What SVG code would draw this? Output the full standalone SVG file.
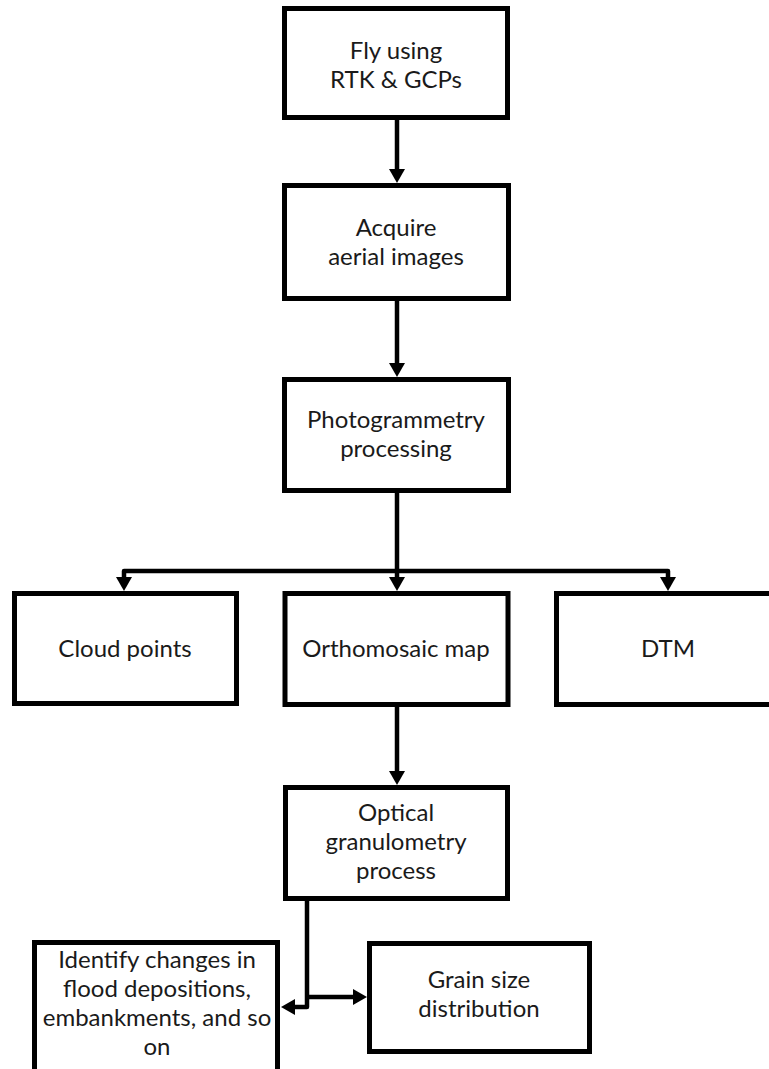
<svg xmlns="http://www.w3.org/2000/svg" width="769" height="1069" viewBox="0 0 769 1069">
  <style>
    .box { fill: #ffffff; stroke: #000000; stroke-width: 5; stroke-linejoin: miter; }
    .lbl { font-family: Lato, "Open Sans", "Liberation Sans", sans-serif; font-size: 24px; fill: #1a1a1a; text-anchor: middle; }
    .wire { fill: none; stroke: #000000; stroke-width: 4.5; stroke-linejoin: round; }
  </style>
  <defs>
    <marker id="arrow" viewBox="0 0 14 16" refX="6" refY="8" markerWidth="14" markerHeight="16" markerUnits="userSpaceOnUse" orient="auto">
      <path d="M0,0 L14,8 L0,16 z" fill="#000000"/>
    </marker>
  </defs>
  <rect width="769" height="1069" fill="#ffffff"/>

  <g id="connectors">
    <path class="wire" d="M397,120 V175" marker-end="url(#arrow)"/>
    <path class="wire" d="M397,301 V369" marker-end="url(#arrow)"/>
    <path class="wire" d="M397,493 V583" marker-end="url(#arrow)"/>
    <path class="wire" d="M397,571 H124 V583" marker-end="url(#arrow)"/>
    <path class="wire" d="M397,571 H668 V583" marker-end="url(#arrow)"/>
    <path class="wire" d="M397,707 V777" marker-end="url(#arrow)"/>
    <path class="wire" d="M307,901 V1007 H289" marker-end="url(#arrow)"/>
    <path class="wire" d="M307,997 H359" marker-end="url(#arrow)"/>
  </g>

  <g id="fly">
    <rect class="box" x="284.5" y="8.5" width="223" height="109"/>
    <text class="lbl" x="396" y="59">Fly using</text>
    <text class="lbl" x="396" y="88">RTK &amp; GCPs</text>
  </g>

  <g id="acquire">
    <rect class="box" x="284.5" y="185.5" width="224" height="113"/>
    <text class="lbl" x="396" y="235.5">Acquire</text>
    <text class="lbl" x="396" y="264.5">aerial images</text>
  </g>

  <g id="photogrammetry">
    <rect class="box" x="284.5" y="379.5" width="224" height="111"/>
    <text class="lbl" x="396" y="428">Photogrammetry</text>
    <text class="lbl" x="396" y="457">processing</text>
  </g>

  <g id="cloud-points">
    <rect class="box" x="14.5" y="593.5" width="222" height="110"/>
    <text class="lbl" x="125" y="657">Cloud points</text>
  </g>

  <g id="orthomosaic">
    <rect class="box" x="285" y="593.5" width="223" height="111"/>
    <text class="lbl" x="396" y="657">Orthomosaic map</text>
  </g>

  <g id="dtm">
    <rect class="box" x="556.5" y="593.5" width="230" height="111"/>
    <text class="lbl" x="668" y="657">DTM</text>
  </g>

  <g id="granulometry">
    <rect class="box" x="285.5" y="787.5" width="222" height="111"/>
    <text class="lbl" x="396" y="821">Optical</text>
    <text class="lbl" x="396" y="850">granulometry</text>
    <text class="lbl" x="396" y="879">process</text>
  </g>

  <g id="identify-changes">
    <rect class="box" x="34.5" y="942.5" width="243" height="140"/>
    <text class="lbl" x="157" y="968">Identify changes in</text>
    <text class="lbl" x="157" y="997">flood depositions,</text>
    <text class="lbl" x="157" y="1026">embankments, and so</text>
    <text class="lbl" x="157" y="1055">on</text>
  </g>

  <g id="grain-size">
    <rect class="box" x="369.5" y="943.5" width="220" height="108"/>
    <text class="lbl" x="479" y="987.5">Grain size</text>
    <text class="lbl" x="479" y="1016.5">distribution</text>
  </g>
</svg>
